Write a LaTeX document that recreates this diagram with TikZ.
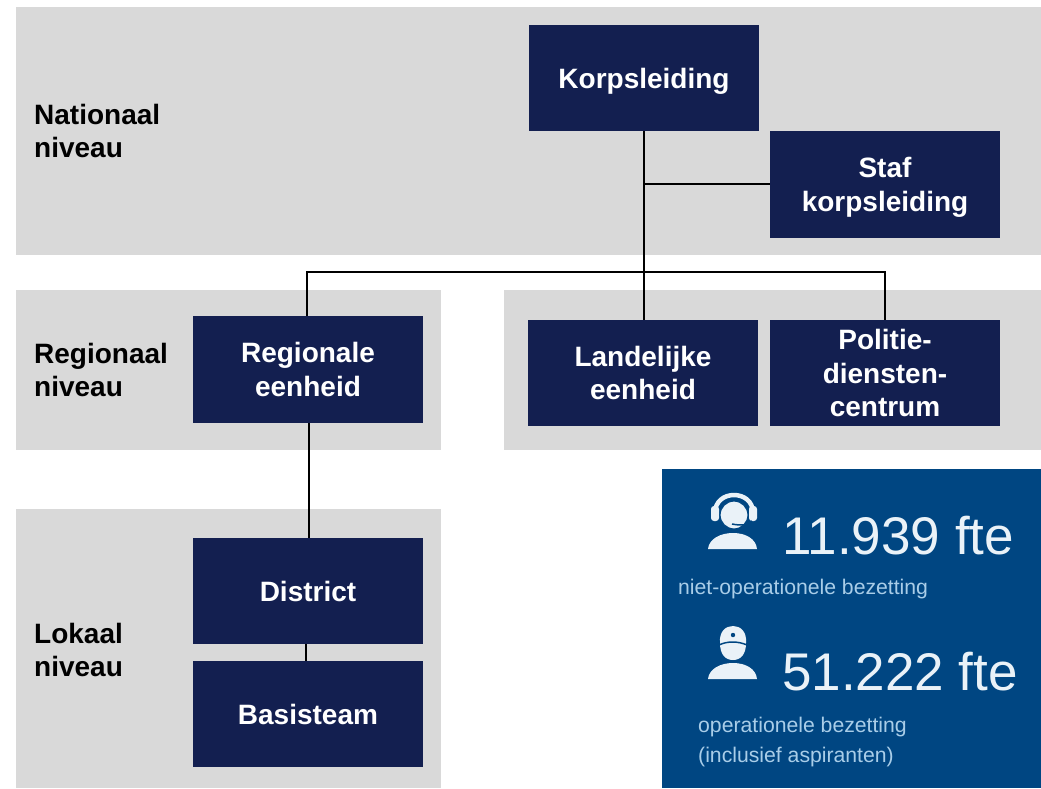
\documentclass[tikz,border=0pt]{standalone}
\usepackage{fontspec}
\setmainfont{Liberation Sans}
\definecolor{panelgray}{HTML}{D9D9D9}
\definecolor{boxnavy}{HTML}{131F50}
\definecolor{infoblue}{HTML}{004682}
\definecolor{infotext}{HTML}{EAF2F8}
\definecolor{infosub}{HTML}{A9CDE8}
\tikzset{
  orgbox/.style={fill=boxnavy,text=white,font=\fontsize{28}{33.5}\selectfont\bfseries,align=center,minimum width=230pt,minimum height=106.5pt,inner sep=0pt},
  levellabel/.style={anchor=west,align=left,font=\fontsize{28}{33.5}\selectfont\bfseries,inner sep=0pt},
  panel/.style={fill=panelgray},
  linkthick/.style={line width=2.7pt},
  linkthin/.style={line width=2pt},
  bignum/.style={anchor=west,inner sep=0pt,text=infotext,font=\fontsize{53}{60}\selectfont},
  subtext/.style={anchor=west,align=left,inner sep=0pt,text=infosub,font=\fontsize{21.2}{30}\selectfont},
  iconfill/.style={fill=infotext}
}
\begin{document}
\begin{tikzpicture}[x=1pt,y=-1pt]
    \useasboundingbox (0,0) rectangle (1041,788);
    \fill[panel] (16,7) rectangle (1041,255);
    \fill[panel] (16,290) rectangle (441,450);
    \fill[panel] (504,290) rectangle (1041,450);
    \fill[panel] (16,509) rectangle (441,788);
    \fill[infoblue] (662,469) rectangle (1041,788);

    \node[levellabel] (nationaal) at (34,131) {Nationaal\\niveau};
    \node[levellabel] (regionaal) at (34,370) {Regionaal\\niveau};
    \node[levellabel] (lokaal) at (34,650) {Lokaal\\niveau};

    \node[orgbox,text depth=0pt] (korps) at (644,78) {Korpsleiding};
    \node[orgbox,text depth=0pt] (staf) at (885,184.5) {Staf\\korpsleiding};
    \node[orgbox] (regio) at (308,369.5) {Regionale\\eenheid};
    \node[orgbox,text depth=-6pt] (land) at (643,373) {Landelijke\\eenheid};
    \node[orgbox,text depth=-4pt] (pdc) at (885,373) {Politie-\\diensten-\\centrum};
    \node[orgbox] (district) at (308,591) {District};
    \node[orgbox] (basis) at (308,714) {Basisteam};

    \coordinate (splitstaf) at (644,184);
    \coordinate (jog) at (644,226);
    \coordinate (busmid) at (643.5,272);
    \coordinate (busleft) at (307,272);
    \coordinate (busright) at (885,272);

    \draw[linkthick] (korps.south) -- (jog);
    \draw[linkthick] (staf.west |- splitstaf) -- (splitstaf);
    \draw[linkthin] (jog -| busmid) -- (busmid) -- (busmid |- land.north);
    \draw[linkthin] (busleft |- regio.north) -- (busleft) -- (busright) -- (busright |- pdc.north);
    \draw[linkthin] (309,423) -- (309,538);
    \draw[linkthin] (306,644) -- (306,661);

    \node[bignum] (fteniet) at (782,536) {11.939 fte};
    \node[subtext] (labelniet) at (678,589) {niet-operationele bezetting};
    \node[bignum] (fteop) at (782,672) {51.222 fte};
    \node[subtext] (labelop) at (698,742) {operationele bezetting\\(inclusief aspiranten)};

    \draw[infotext,line width=4.5pt] (715,513) .. controls (715,489) and (753,489) .. (753,513);
    \fill[iconfill,rounded corners=3pt] (711,506) rectangle (719,521);
    \fill[iconfill,rounded corners=3pt] (749,506) rectangle (757,521);
    \draw[infoblue,iconfill,line width=1.2pt] (734,515) circle (14);
    \draw[infoblue,line width=1.5pt] (752,521) .. controls (750,525) and (742,526) .. (732,524);
    \fill[iconfill] (708,549) .. controls (709,539) and (720,533) .. (733,533) .. controls (746,533) and (756,539) .. (757,549) -- cycle;

    \fill[iconfill] (720,643) .. controls (719,631) and (726,626) .. (733,626) .. controls (740,626) and (747,631) .. (746,643) .. controls (746,654) and (741,660) .. (733,660) .. controls (725,660) and (720,654) .. (720,643) -- cycle;
    \draw[infoblue,line width=1.5pt] (719,645) .. controls (727,641) and (738,641) .. (747,645);
    \fill[infoblue] (733,635) circle (2.2);
    \fill[iconfill] (708,679) .. controls (709,669) and (720,663) .. (733,663) .. controls (746,663) and (756,669) .. (757,679) -- cycle;
\end{tikzpicture}
\end{document}
